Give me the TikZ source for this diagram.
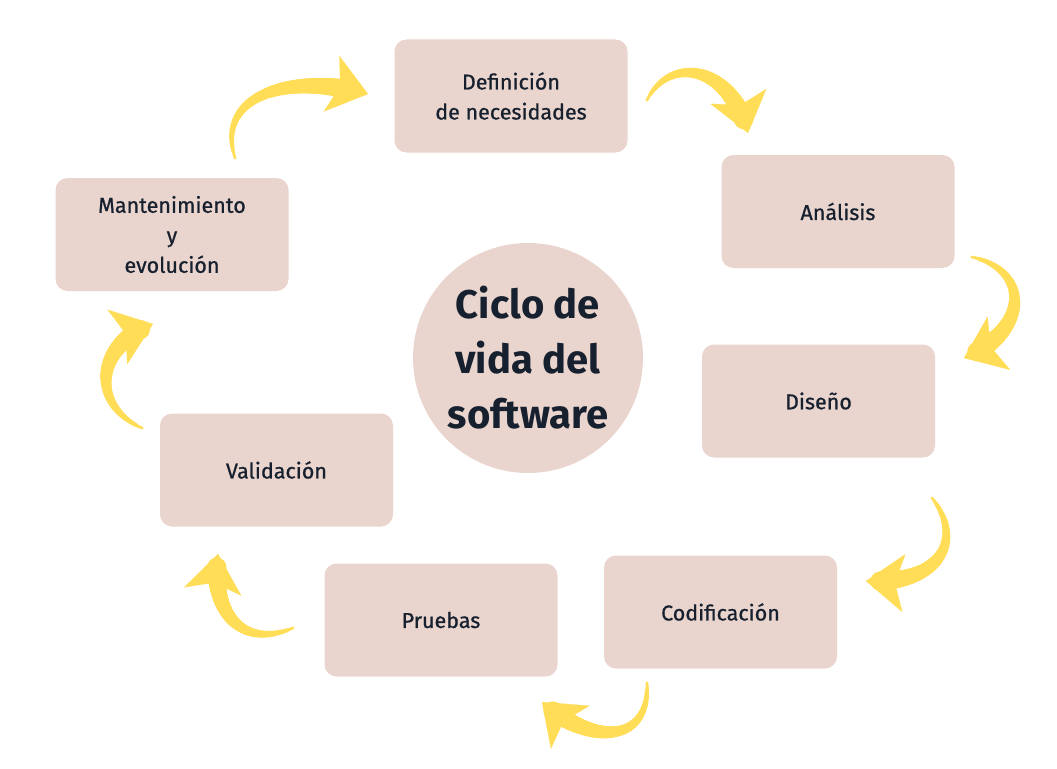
\documentclass[tikz,border=0pt]{standalone}
\usepackage{fontspec}
\setmainfont{Fira Sans}
\newfontfamily\stagefont{Fira Sans}[FakeBold=0.8]
\usetikzlibrary{arrows.meta, decorations.markings}
\definecolor{boxpink}{HTML}{E9D5CE}
\definecolor{textnavy}{HTML}{17202E}
\definecolor{brushyellow}{HTML}{FFDD57}

\begin{document}
\begin{tikzpicture}[
    x=1pt, y=-1pt,
    stage/.style={
        fill=boxpink,
        rounded corners=12pt,
        minimum width=233pt,
        minimum height=113pt,
        align=center,
        text=textnavy,
        font=\stagefont\fontsize{21.5}{30}\selectfont
    },
    hub/.style={
        circle,
        fill=boxpink,
        minimum size=230pt,
        align=center,
        text=textnavy,
        font=\bfseries\fontsize{40}{55}\selectfont
    },
    brush/.style={
        draw=brushyellow,
        line width=0.2pt,
        -{Stealth[length=38pt, width=58pt, inset=9pt, fill=brushyellow, round]},
        postaction={decorate, decoration={markings,
            mark=between positions 0 and 0.9 step 0.01 with {
                \fill[brushyellow] (0,0) circle[radius={1.5pt+0.09pt*\pgfkeysvalueof{/pgf/decoration/mark info/sequence number}}];}}}
    }
]
\useasboundingbox (0,0) rectangle (1057,768);

% Nodes
\node (hub) [hub] at (528,358) {Ciclo de\\vida del\\software};
\node (need) [stage] at (511,96) {Definición\\de necesidades};
\node (anal) [stage] at (838,211.5) {Análisis};
\node (design) [stage] at (818.5,401) {Diseño};
\node (code) [stage] at (720.5,612) {Codificación};
\node (test) [stage] at (441,620) {Pruebas};
\node (valid) [stage] at (276.5,470) {Validación};
\node (maint) [stage] at (172,234.5) {Mantenimiento\\y\\evolución};

% Arrow ends
\coordinate (m2n-a) at (235,158);  \coordinate (m2n-b) at (368,94);
\coordinate (n2a-a) at (647,100);  \coordinate (n2a-b) at (748,133);
\coordinate (a2d-a) at (972,257);  \coordinate (a2d-b) at (964,358);
\coordinate (d2c-a) at (932,498);  \coordinate (d2c-b) at (866,581);
\coordinate (c2t-a) at (647,683);  \coordinate (c2t-b) at (542,702);
\coordinate (t2v-a) at (293,628);  \coordinate (t2v-b) at (218,554);
\coordinate (v2m-a) at (142,428);  \coordinate (v2m-b) at (153,324);

% Arrows
\path [brush] (m2n-a) .. controls (215,95) and (290,72) .. (m2n-b);
\path [brush] (n2a-a) .. controls (670,55) and (730,65) .. (n2a-b);
\path [brush] (a2d-a) .. controls (1030,270) and (1030,330) .. (a2d-b);
\path [brush] (d2c-a) .. controls (965,540) and (940,585) .. (d2c-b);
\path [brush] (c2t-a) .. controls (650,745) and (590,745) .. (c2t-b);
\path [brush] (t2v-a) .. controls (240,650) and (210,610) .. (t2v-b);
\path [brush] (v2m-a) .. controls (90,405) and (95,345) .. (v2m-b);

\end{tikzpicture}
\end{document}
